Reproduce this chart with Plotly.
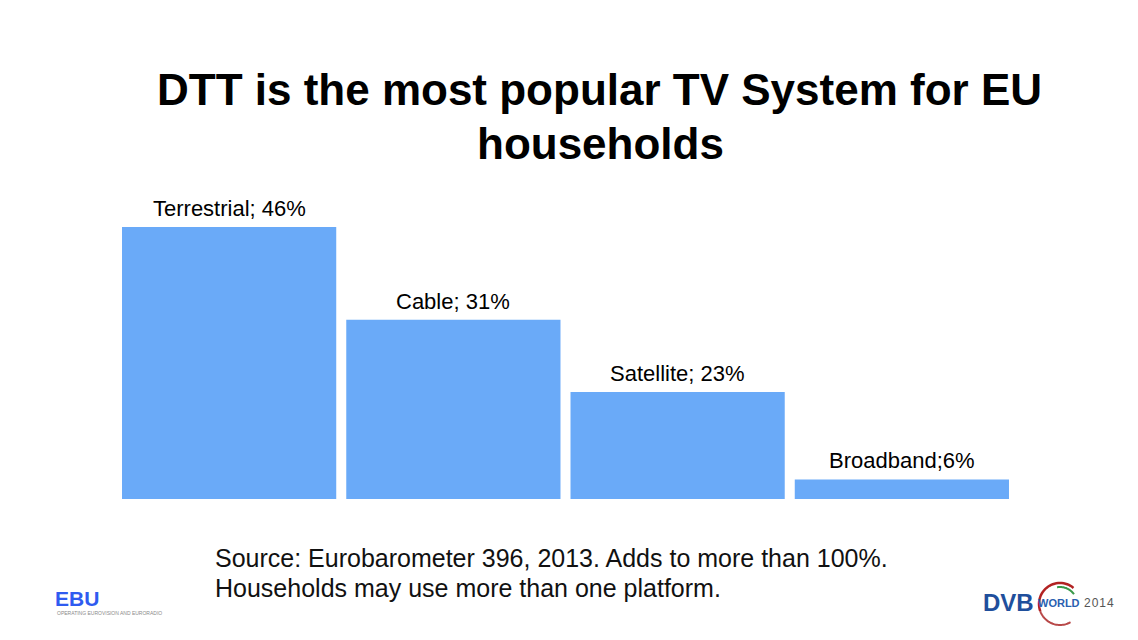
import math
import plotly.graph_objects as go

# ---- data ----
categories = ["Terrestrial", "Cable", "Satellite", "Broadband"]
bar_heights = [46.0, 30.3, 18.1, 3.3]          # heights as drawn in the picture
bar_labels = ["Terrestrial; 46%", "Cable; 31%", "Satellite; 23%", "Broadband;6%"]
title_lines = ["DTT is the most popular TV System for EU", "households"]
source_lines = ["Source: Eurobarometer 396, 2013. Adds to more than 100%.",
                "Households may use more than one platform."]

W, H = 1138, 640
OFF = 8  # page body margin
BAR_COLOR = "#6AAAF8"
FONT = "Liberation Sans, Arial, sans-serif"

def px(x):
    return (x - OFF) / W

def py(y):
    return 1 - (y - OFF) / H

fig = go.Figure(go.Bar(x=categories, y=bar_heights, marker=dict(color=BAR_COLOR, line=dict(width=0)),
                       hoverinfo="skip"))

y_top_px, y_bot_px = 200, 499
scale = (y_bot_px - 227) / bar_heights[0]
ymax = (y_bot_px - y_top_px) / scale

annotations = []
for c, h, lab in zip(categories, bar_heights, bar_labels):
    annotations.append(dict(x=c, y=h, xref="x", yref="y", text=lab, showarrow=False,
                            yanchor="bottom", yshift=4,
                            font=dict(family=FONT, size=22, color="#000000")))

annotations.append(dict(x=px(599), y=py(89), xref="paper", yref="paper", text="<b>" + title_lines[0] + "</b>",
                        showarrow=False, xanchor="center", yanchor="middle",
                        font=dict(family=FONT, size=44, color="#000000")))
annotations.append(dict(x=px(600), y=py(143), xref="paper", yref="paper", text="<b>" + title_lines[1] + "</b>",
                        showarrow=False, xanchor="center", yanchor="middle",
                        font=dict(family=FONT, size=44, color="#000000")))
for i, s in enumerate(source_lines):
    annotations.append(dict(x=px(213), y=py(558 + 30 * i), xref="paper", yref="paper", text=s,
                            showarrow=False, xanchor="left", yanchor="middle",
                            font=dict(family=FONT, size=25, color="#111111")))

# EBU logo
annotations.append(dict(x=px(53), y=py(598), xref="paper", yref="paper", text="<b>EBU</b>",
                        showarrow=False, xanchor="left", yanchor="middle",
                        font=dict(family=FONT, size=21, color="#2F5BF0")))
annotations.append(dict(x=px(55), y=py(613), xref="paper", yref="paper",
                        text="OPERATING EUROVISION AND EURORADIO",
                        showarrow=False, xanchor="left", yanchor="middle",
                        font=dict(family=FONT, size=5, color="#8a8a8a")))
# DVB World logo
annotations.append(dict(x=px(981), y=py(602), xref="paper", yref="paper", text="<b>DVB</b>",
                        showarrow=False, xanchor="left", yanchor="middle",
                        font=dict(family=FONT, size=24, color="#1F4F9C")))
annotations.append(dict(x=px(1036), y=py(603), xref="paper", yref="paper", text="<b>WORLD</b>",
                        showarrow=False, xanchor="left", yanchor="middle",
                        font=dict(family=FONT, size=11, color="#2A5FB0")))
annotations.append(dict(x=px(1082), y=py(603), xref="paper", yref="paper", text="2\u200a0\u200a1\u200a4",
                        showarrow=False, xanchor="left", yanchor="middle",
                        font=dict(family=FONT, size=12, color="#555555")))

shapes = []
def arc(cx, cy, r, a0, a1, n=30):
    pts = []
    for k in range(n + 1):
        a = math.radians(a0 + (a1 - a0) * k / n)
        pts.append((px(cx + r * math.cos(a)), py(cy - r * math.sin(a))))
    return "M " + " L ".join(f"{x:.5f},{y:.5f}" for x, y in pts)
shapes.append(dict(type="path", path=arc(1060, 604, 21, 50, 200), xref="paper", yref="paper",
                   line=dict(color="#B22222", width=2.5)))
shapes.append(dict(type="path", path=arc(1060, 604, 21, 200, 300), xref="paper", yref="paper",
                   line=dict(color="#B84848", width=2)))
shapes.append(dict(type="path", path=arc(1060, 604, 17, 35, 100), xref="paper", yref="paper",
                   line=dict(color="#3A9A4A", width=2)))

fig.update_layout(
    width=W, height=H,
    margin=dict(l=0, r=0, t=0, b=0),
    paper_bgcolor="white", plot_bgcolor="white",
    showlegend=False,
    bargap=10 / 224,
    xaxis=dict(domain=[px(117), px(1014)], showticklabels=False, showgrid=False,
               zeroline=False, showline=False, ticks=""),
    yaxis=dict(domain=[py(y_bot_px), py(y_top_px)], range=[0, ymax], showticklabels=False,
               showgrid=False, zeroline=False, showline=False, ticks=""),
    annotations=annotations,
    shapes=shapes,
)

fig.write_html("out.html")
